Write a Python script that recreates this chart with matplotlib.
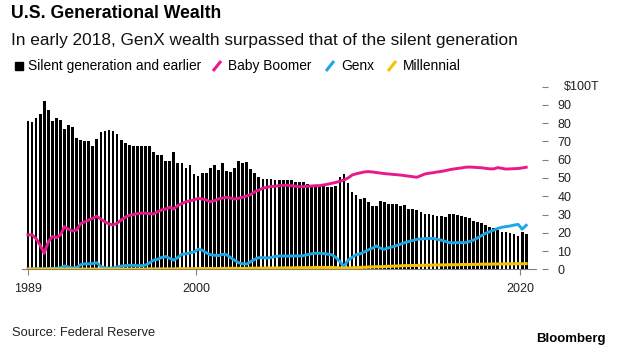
import matplotlib.pyplot as plt
import pandas as pd
from matplotlib.lines import Line2D
from matplotlib.patches import Rectangle

plt.rcParams['font.family'] = ['Liberation Sans', 'DejaVu Sans']

# quarters 1989Q3 .. 2020Q2
quarters = pd.period_range('1989Q3', '2020Q2', freq='Q')

silent = [81, 80.5, 83, 85, 92, 87.5, 81, 83, 82, 77, 79, 78, 72, 71, 70.5, 70,
          67.5, 71.5, 75, 76, 76.5, 75.5, 74, 71, 69, 68, 67.5, 67.5, 67.5, 67.5, 67.5, 64.5,
          62.5, 62.5, 59.5, 59.5, 64, 58, 58, 55.5, 57, 52, 51, 52.5, 52.5, 55.5,
          57, 54.5, 58, 54, 53.5, 55.5, 59.5, 58, 59, 55, 53, 50.5, 49.5, 49.5,
          49.5, 48.7, 48.7, 48.7, 48.7, 49, 47.6, 48, 48, 46.5, 45.8, 45.8, 45.8, 45.5, 45, 45, 45.8,
          50.5, 52, 47, 42.5, 40.7, 38.5, 39.2, 36.7, 34.8, 34.8, 37.4, 36.7, 35.6, 36,
          35.6, 34.8, 35.2, 33, 33, 32.5, 31.2, 30.3, 30.1, 29.7, 29.4, 29.4, 28.8, 30.1, 30.1, 29.7,
          29.4, 28.8, 27.9, 26.5, 26.1, 25.2, 24.3, 23.4, 22.4, 21.5, 20.6, 20.2, 19.7, 19.2, 18.4,
          20.6, 19.2]

boomer = [18.8, 18.9, 16.8, 13.2, 8.8, 15, 17.9, 17.3, 18.8, 23.3, 22, 21, 21.5, 25, 26, 27,
          28, 29, 27.5, 26, 24.8, 24.3, 25.2, 27, 28.5, 29.5, 30, 30.5, 30.8, 30.7, 30.5, 30.3,
          31.5, 32.5, 33, 34, 33, 35, 36, 37, 37.5, 38, 38.9, 38.5, 38, 37, 37.5, 38.5,
          39, 39.4, 39, 38.5, 38.9, 39.5, 40.1, 41, 42.5, 43.4, 44.5, 44.9, 45.3, 45.5, 45.8, 46,
          46, 45.8, 45.5, 45.2, 45.3, 45.5, 45.6, 45.8, 45.8, 46.2, 46.6, 47.1, 47.6, 48.2, 48.9, 50,
          51.6, 52.3, 52.8, 53.3, 53.5, 53.3, 53, 52.7, 52.4, 52.2, 52, 51.8, 51.6, 51.3, 51, 50.7,
          50.4, 51.3, 52.2, 52.6, 52.9, 53.3, 53.6, 54, 54.5, 54.9, 55.2, 55.5, 55.9, 56, 55.9, 55.7,
          55.6, 55.3, 55, 55, 55.7, 55.3, 54.9, 55, 55.1, 55.2, 55.5, 55.9]

genx = [0.2, 0.2, 0.3, 0.3, 0.3, 0.4, 0.5, 0.6, 0.8, 1.8, 1.2, 0.8, 1, 2.5, 3, 3,
        3.2, 3.6, 1.5, 0.8, 0.6, 0.8, 1.2, 1.8, 2, 2.2, 2.2, 2, 2, 2.3, 3.5, 5,
        5.5, 6.5, 7, 6, 5, 6.5, 8.2, 8.5, 9, 9.5, 11, 10.5, 9, 8, 7.7, 7.5,
        8.2, 8, 6.4, 5, 3.6, 3, 2.9, 4.2, 5.5, 6.4, 6.4, 6.2, 6.5, 7, 7.3, 7.3,
        7.2, 7.3, 7.3, 7.3, 7.5, 8, 8.5, 8.8, 8.8, 8.6, 8.3, 8, 6.5, 4.2, 1.4, 5,
        6.5, 8, 8.5, 9.5, 10.6, 11.5, 12.8, 11.5, 11, 11.8, 12.3, 13, 13.8, 14.6, 15.2, 15.8,
        16.4, 16.6, 16.8, 16.9, 16.9, 16.4, 16, 15.3, 14.6, 14.5, 14.6, 14.6, 14.6, 15.2, 16, 17.2,
        18.5, 19.7, 20.6, 21.5, 22.4, 23, 23.4, 23.7, 24.2, 24.6, 22, 24.1]

millennial = [0.1, 0.1, 0.1, 0.1, 0.1, 0.1, 0.1, 0.1, 0.1, 0.1, 0.1, 0.1, 0.1, 0.1, 0.1, 0.1,
              0.1, 0.1, 0.1, 0.1, 0.1, 0.1, 0.1, 0.1, 0.1, 0.1, 0.1, 0.1, 0.1, 0.1, 0.2, 0.2,
              0.2, 0.2, 0.2, 0.2, 0.2, 0.3, 0.3, 0.3, 0.3, 0.3, 0.4, 0.4, 0.4, 0.4, 0.4, 0.4,
              0.5, 0.5, 0.5, 0.5, 0.5, 0.5, 0.5, 0.6, 0.6, 0.6, 0.6, 0.7, 0.7, 0.7, 0.7, 0.8,
              0.8, 0.8, 0.8, 0.9, 0.9, 0.9, 0.9, 1.0, 1.0, 1.0, 1.0, 1.0, 0.9, 0.7, 0.6, 0.7,
              0.8, 0.9, 1.0, 1.1, 1.2, 1.3, 1.4, 1.4, 1.5, 1.6, 1.7, 1.8, 1.9, 2.0, 2.0, 2.1,
              2.1, 2.2, 2.2, 2.3, 2.3, 2.4, 2.4, 2.4, 2.5, 2.5, 2.5, 2.6, 2.6, 2.6, 2.7, 2.7,
              2.8, 2.8, 2.8, 2.9, 2.9, 2.9, 3.0, 3.0, 3.0, 3.1, 3.0, 3.1]

yticks = [0, 10, 20, 30, 40, 50, 60, 70, 80, 90, 100]
ytick_labels = ['0', '10', '20', '30', '40', '50', '60', '70', '80', '90', '']

PINK = '#e8198b'
BLUE = '#1ea6e6'
YELLOW = '#f7c100'
GRAY = '#808080'

# quarter midpoints as fractional years
x = quarters.year + (quarters.quarter - 0.5) / 4
xticks = [x[0], 2000, 2020]
xtick_labels = ['1989', '2000', '2020']

W, H = 620, 354
fig = plt.figure(figsize=(W / 100, H / 100), dpi=100)
ax = fig.add_axes([22 / W, (H - 269.3) / H, (542 - 22) / W, (269.3 - 86.7) / H])

ax.bar(x, silent, width=0.17, color='black', zorder=1)
ax.plot(x, boomer, color=PINK, lw=2.1, zorder=3, solid_joinstyle='round')
ax.plot(x, genx, color=BLUE, lw=2.1, zorder=3, solid_joinstyle='round')
ax.plot(x, millennial, color=YELLOW, lw=2.2, zorder=4, solid_joinstyle='round')

ax.set_xlim(1989.255, 2021.35)
ax.set_ylim(0, 100)

for s in ['top', 'left', 'right']:
    ax.spines[s].set_visible(False)
ax.spines['bottom'].set_color(GRAY)
ax.spines['bottom'].set_linewidth(0.8)
ax.spines['bottom'].set_bounds(1989.255, x[-1] + 0.6)
ax.spines['bottom'].set_zorder(2)

ax.set_xticks(xticks)
ax.set_xticklabels(xtick_labels)
ax.tick_params(axis='x', length=4, width=0.8, color=GRAY, pad=6, labelsize=9, labelcolor='#222222')

ax.yaxis.tick_right()
ax.set_yticks(yticks)
ax.set_yticklabels(ytick_labels)
ax.tick_params(axis='y', length=4, width=0.8, color=GRAY, pad=7, labelsize=9, labelcolor='#222222')

def fx(px):
    return px / W

def fy(py):
    return 1 - py / H

fig.text(fx(564), fy(87), '$100T', fontsize=9, color='#222222', va='center', ha='left')

fig.text(fx(11), fy(14), 'U.S. Generational Wealth', fontsize=12.7, fontweight='bold', va='center')
fig.text(fx(11), fy(40), 'In early 2018, GenX wealth surpassed that of the silent generation',
         fontsize=12.4, va='center', color='#111111')

# legend
ly = 66
fig.patches.append(Rectangle((fx(15), fy(ly + 4)), 8 / W, 8 / H, transform=fig.transFigure,
                             color='black'))
fig.text(fx(28), fy(ly), 'Silent generation and earlier', fontsize=9.9, va='center')
for lx, col, label in [(213, PINK, 'Baby Boomer'), (326, BLUE, 'Genx'), (388, YELLOW, 'Millennial')]:
    fig.add_artist(Line2D([fx(lx), fx(lx + 8)], [fy(ly + 5), fy(ly - 5)], color=col, lw=2.2,
                          transform=fig.transFigure, solid_capstyle='butt'))
    fig.text(fx(lx + 15), fy(ly), label, fontsize=9.9, va='center')

fig.text(fx(12), fy(333), 'Source: Federal Reserve', fontsize=9.3, va='center', color='#222222')
fig.text(fx(606), fy(339), 'Bloomberg', fontsize=9.5, fontweight='bold', va='center', ha='right')

fig.savefig('out.png', dpi=100)
